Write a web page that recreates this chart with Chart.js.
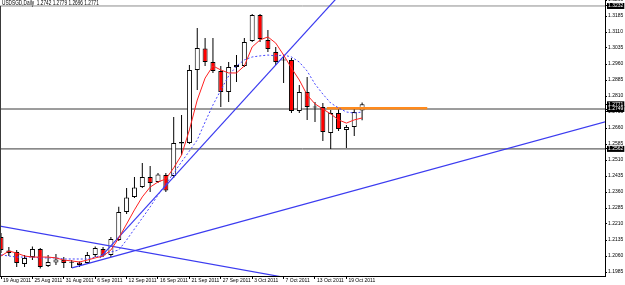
<!DOCTYPE html>
<html><head><meta charset="utf-8">
<script src="https://cdn.jsdelivr.net/npm/chart.js@4/dist/chart.umd.min.js"></script>
<style>
html,body{margin:0;padding:0;background:#fff;}
#wrap{position:relative;width:625px;height:285px;overflow:hidden;}
#c{position:absolute;left:0;top:0;}
#title{position:absolute;left:2px;top:-1px;font-size:6.5px;font-family:'Liberation Sans',sans-serif;color:#000;white-space:pre;line-height:8px;transform:scaleX(0.73);transform-origin:0 0;}
</style></head><body>
<div id="wrap"><canvas id="c" width="625" height="285"></canvas><div id="title">USDSGD,Daily  1.2742 1.2779 1.2696 1.2771</div></div>
<script>
// ---- data (daily bars, index 0 = 19 Aug 2011) ----
const dateLabels = ['19 Aug 2011','25 Aug 2011','31 Aug 2011','6 Sep 2011','12 Sep 2011','16 Sep 2011','21 Sep 2011','27 Sep 2011','3 Oct 2011','7 Oct 2011','13 Oct 2011','19 Oct 2011'];
const dateLabelBars = [0,4,8,12,16,20,24,28,32,36,40,44];
const opens  = [1.2149,1.2086,1.2079,1.2023,1.2055,1.2093,1.2013,1.2030,1.2041,1.2028,1.2030,1.2027,1.2065,1.2093,1.2065,1.2135,1.2266,1.2337,1.2383,1.2430,1.2407,1.2440,1.2435,1.2594,1.2590,1.2932,1.3033,1.2969,1.2927,1.2829,1.2946,1.2951,1.3068,1.3190,1.3073,1.3016,1.2979,1.2979,1.2740,1.2829,1.2758,1.2758,1.2637,1.2730,1.2651,1.2665,1.2742];
const highs  = [1.2168,1.2102,1.2088,1.2065,1.2104,1.2098,1.2065,1.2069,1.2055,1.2041,1.2034,1.2079,1.2104,1.2102,1.2149,1.2291,1.2379,1.2430,1.2496,1.2482,1.2449,1.2449,1.2712,1.2721,1.2955,1.3129,1.3082,1.3082,1.2951,1.2969,1.3002,1.3082,1.3194,1.3194,1.3119,1.3040,1.3002,1.2988,1.2862,1.2899,1.2782,1.2777,1.2744,1.2758,1.2674,1.2758,1.2779];
const lows   = [1.2074,1.2060,1.2008,1.2008,1.2041,1.2001,1.2008,1.2018,1.2004,1.2004,1.2008,1.2023,1.2055,1.2055,1.2055,1.2130,1.2257,1.2332,1.2379,1.2360,1.2402,1.2360,1.2426,1.2533,1.2585,1.2838,1.2951,1.2918,1.2758,1.2782,1.2876,1.2946,1.3063,1.3063,1.3016,1.2955,1.2871,1.2730,1.2730,1.2698,1.2688,1.2599,1.2562,1.2646,1.2566,1.2623,1.2696];
const closes = [1.2088,1.2074,1.2027,1.2051,1.2093,1.2008,1.2032,1.2044,1.2027,1.2030,1.2018,1.2065,1.2098,1.2062,1.2140,1.2266,1.2334,1.2381,1.2430,1.2402,1.2442,1.2367,1.2590,1.2587,1.2932,1.3035,1.2969,1.2927,1.2829,1.2946,1.2955,1.3063,1.3190,1.3077,1.3030,1.2969,1.2976,1.2740,1.2829,1.2758,1.2756,1.2641,1.2730,1.2655,1.2665,1.2735,1.2771];
const fastMA = [1.2060,1.2083,1.2074,1.2060,1.2055,1.2055,1.2055,1.2051,1.2041,1.2037,1.2032,1.2041,1.2051,1.2060,1.2088,1.2144,1.2210,1.2276,1.2337,1.2383,1.2407,1.2421,1.2473,1.2533,1.2651,1.2791,1.2894,1.2951,1.2932,1.2918,1.2918,1.2951,1.3040,1.3073,1.3087,1.3058,1.3002,1.2941,1.2885,1.2815,1.2773,1.2749,1.2726,1.2698,1.2683,1.2698,1.2707];
const slowMA = [1.2065,1.2060,1.2055,1.2055,1.2055,1.2051,1.2051,1.2051,1.2046,1.2046,1.2046,1.2046,1.2055,1.2065,1.2079,1.2088,1.2135,1.2187,1.2238,1.2290,1.2346,1.2398,1.2449,1.2501,1.2552,1.2604,1.2688,1.2768,1.2838,1.2904,1.2951,1.2979,1.2993,1.2998,1.3002,1.2998,1.3002,1.2993,1.2969,1.2927,1.2866,1.2819,1.2777,1.2754,1.2735,1.2730,1.2735];
const priceTicks = [1.1985,1.2060,1.2135,1.2210,1.2285,1.2360,1.2435,1.2510,1.2585,1.2660,1.2735,1.2810,1.2885,1.2960,1.3035,1.3110,1.3185,1.3260];
const hLineLevels = [1.3232,1.2749,1.2562];
const bidPrice = 1.2771;
const orangeLevel = 1.2753;
const orangeBars = [41.5,54.3];
// trend line anchors: [bar index, price]
const trendSteep   = [[12.6,1.2051],[45,1.3359]];
const trendShallow = [[9.04,1.2004],[80,1.2719]];
const trendDown    = [[-0.5,1.2203],[40,1.1934]];
const viewBars = [-0.1274,76.943];
const viewPrice = [1.196625,1.3260];

// ---- build ----
const idx = opens.map((_,i)=>i);
const isDoji = i => Math.abs(closes[i]-opens[i]) < 0.0003;
const bodyData = idx.map(i=>({x:i,y:[opens[i],closes[i]]}));
const wickData = idx.map(i=>({x:i,y:[lows[i],highs[i]]}));
const bodyColors = idx.map(i=> isDoji(i) ? '#000000' : (closes[i]>=opens[i] ? '#ffffff' : '#ff0000'));
const toPts = arr => arr.map(p=>({x:p[0],y:p[1]}));
const highlightVals = [hLineLevels[0], bidPrice, hLineLevels[1], hLineLevels[2]];
const isHL = v => highlightVals.some(h=>Math.abs(h-v)<1e-7);
const FONT = "'Liberation Sans',sans-serif";

const datasets = [];
hLineLevels.forEach((lv,k)=>{
  datasets.push({type:'line',data:[{x:viewBars[0]-1,y:lv},{x:viewBars[1]+1,y:lv}],borderColor:k===0?'#8c8c8c':'#3a3a3a',borderWidth:1,pointRadius:0,order:10});
});
datasets.push({type:'bar',data:wickData,backgroundColor:'#000',barThickness:1,grouped:false,inflateAmount:0,borderWidth:0,order:6});
datasets.push({type:'bar',data:bodyData,backgroundColor:bodyColors,borderColor:'#000',borderWidth:1,borderSkipped:false,barThickness:5,minBarLength:1,grouped:false,inflateAmount:0,order:5});
[trendSteep,trendShallow,trendDown].forEach(t=>{
  datasets.push({type:'line',data:toPts(t),borderColor:'#3b3bf0',borderWidth:1.2,pointRadius:0,order:3});
});
datasets.push({type:'line',data:[{x:orangeBars[0],y:orangeLevel},{x:orangeBars[1],y:orangeLevel}],borderColor:'#ff8a1c',borderWidth:2.5,pointRadius:0,order:2});
datasets.push({type:'line',data:slowMA.map((v,i)=>({x:i,y:v})),borderColor:'#4646ff',borderWidth:1,borderDash:[2,2],pointRadius:0,order:1});
datasets.push({type:'line',data:fastMA.map((v,i)=>({x:i,y:v})),borderColor:'#ff2020',borderWidth:1,pointRadius:0,order:0});

const leftFrame = {
  id:'leftFrame',
  afterDraw(chart){
    const {ctx,chartArea,scales} = chart;
    const top = scales.y.getPixelForValue(hLineLevels[0]);
    ctx.save();ctx.strokeStyle='#3a3a3a';ctx.lineWidth=1;
    ctx.beginPath();ctx.moveTo(chartArea.left+0.5,top);ctx.lineTo(chartArea.left+0.5,chartArea.bottom);ctx.stroke();
    ctx.restore();
  }
};

new Chart(document.getElementById('c'),{
  type:'bar',
  data:{datasets},
  plugins:[leftFrame],
  options:{
    responsive:false,animation:false,events:[],
    devicePixelRatio:1,
    layout:{padding:0},
    plugins:{legend:{display:false},tooltip:{enabled:false},title:{display:false}},
    scales:{
      x:{type:'linear',min:viewBars[0],max:viewBars[1],offset:false,
        grid:{display:true,drawOnChartArea:false,offset:false,tickLength:3,color:'#000'},
        border:{display:true,color:'#000'},
        afterBuildTicks:a=>{a.ticks=dateLabelBars.map(v=>({value:v}));},
        afterFit:s=>{s.height=9;s.paddingLeft=0;s.paddingRight=0;},
        ticks:{autoSkip:false,maxRotation:0,minRotation:0,align:'start',labelOffset:2,padding:-1,color:'#000',
          font:{family:FONT,size:5},
          callback:v=>{const k=dateLabelBars.indexOf(v);return k>=0?dateLabels[k]:'';}}
      },
      y:{type:'linear',position:'right',min:viewPrice[0],max:viewPrice[1],
        grid:{display:true,drawOnChartArea:false,tickLength:2,color:'#000'},
        border:{display:true,color:'#000'},
        afterBuildTicks:a=>{a.ticks=priceTicks.concat(highlightVals).map(v=>({value:v}));},
        afterFit:s=>{s.width=20;s.paddingTop=0;s.paddingBottom=0;},
        ticks:{autoSkip:false,padding:1,font:{family:FONT,size:5},
          color:c=>isHL(c.tick.value)?'#fff':'#000',
          showLabelBackdrop:c=>isHL(c.tick.value),
          backdropColor:'#000',backdropPadding:{top:0,bottom:0,left:1,right:1},
          callback:v=>v.toFixed(4)}
      }
    }
  }
});
</script>
</body></html>
